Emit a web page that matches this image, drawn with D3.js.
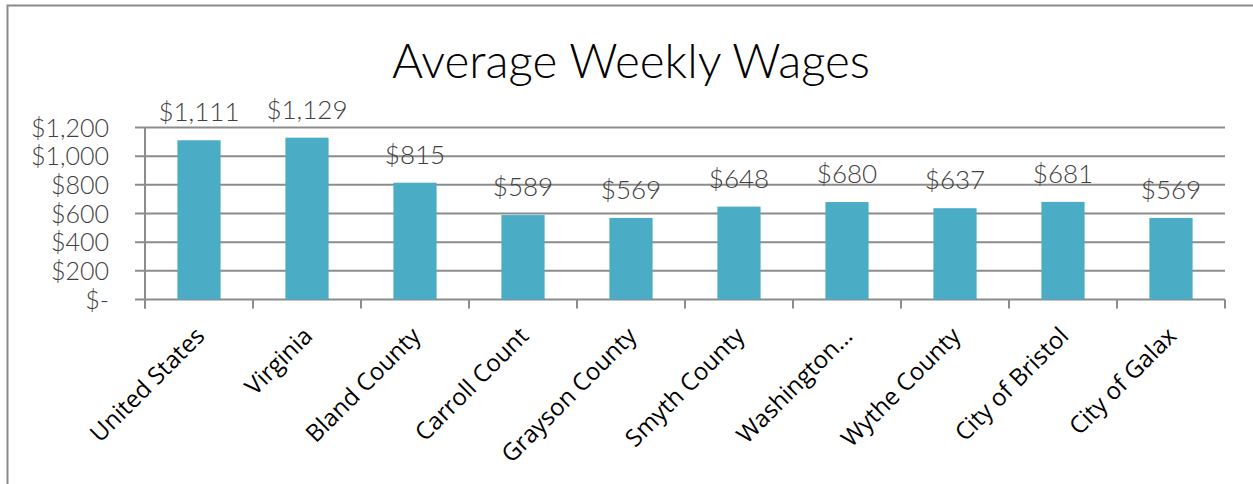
<!DOCTYPE html>
<html>
<head>
<meta charset="utf-8">
<script src="https://cdn.jsdelivr.net/npm/d3@7"></script>
<style>
  body { margin: 0; background: #fff; }
  svg { display: block; }
</style>
</head>
<body>
<svg id="chart" width="1253" height="484"></svg>
<script>
// data
const categories = ["United States", "Virginia", "Bland County", "Carroll Count", "Grayson County",
                    "Smyth County", "Washington\u2026", "Wythe County", "City of Bristol", "City of Galax"];
const wages = [1111, 1129, 815, 589, 569, 648, 680, 637, 681, 569];
const yTicks = [0, 200, 400, 600, 800, 1000, 1200];
const chartTitle = "Average Weekly Wages";

const W = 1253, H = 484;
const plot = {left: 145, right: 1225, top: 127.5, bottom: 299.5};

const svg = d3.select("#chart");

// outer frame (only left + top edges are visible in the picture)
svg.append("rect")
    .attr("x", 7.5).attr("y", 5.5)
    .attr("width", W + 20).attr("height", H + 20)
    .attr("fill", "none")
    .attr("stroke", "#8a8a8a")
    .attr("stroke-width", 2);

svg.append("text")
    .attr("x", 631).attr("y", 78)
    .attr("text-anchor", "middle")
    .attr("font-family", "Lato")
    .attr("font-weight", 300)
    .attr("font-size", 47.5)
    .attr("fill", "#000")
    .text(chartTitle);

let x = d3.scaleBand()
    .domain(categories)
    .range([plot.left, plot.right])
    .paddingInner(0.6)
    .paddingOuter(0.3);

let y = d3.scaleLinear()
    .domain([0, 1200])
    .range([plot.bottom, plot.top]);

let fmt = v => v === 0 ? "$-" : "$" + d3.format(",")(v);

// gridlines + left ticks
let grid = svg.append("g");
grid.selectAll("line").data(yTicks).enter().append("line")
    .attr("x1", plot.left - 10).attr("x2", plot.right)
    .attr("y1", d => y(d)).attr("y2", d => y(d))
    .attr("stroke", "#8c8c8c")
    .attr("stroke-width", 2);

// y axis line
svg.append("line")
    .attr("x1", plot.left).attr("x2", plot.left)
    .attr("y1", plot.top).attr("y2", plot.bottom + 9)
    .attr("stroke", "#8c8c8c").attr("stroke-width", 2);

// category boundary ticks
let step = x.step();
let bounds = d3.range(categories.length + 1).map(i => plot.left + i * step);
svg.append("g").selectAll("line").data(bounds).enter().append("line")
    .attr("x1", d => d).attr("x2", d => d)
    .attr("y1", plot.bottom).attr("y2", plot.bottom + 9)
    .attr("stroke", "#8c8c8c").attr("stroke-width", 2);

// y tick labels
svg.append("g").selectAll("text").data(yTicks).enter().append("text")
    .attr("x", 109)
    .attr("y", d => y(d) + 9)
    .attr("text-anchor", "end")
    .attr("font-family", "Lato")
    .attr("font-weight", 300)
    .attr("font-size", 25)
    .attr("fill", "#404040")
    .text(fmt);

// bars
svg.append("g").selectAll("rect").data(wages).enter().append("rect")
    .attr("x", (d, i) => x(categories[i]))
    .attr("y", d => y(d))
    .attr("width", x.bandwidth())
    .attr("height", d => y(0) - y(d))
    .attr("fill", "#4bacc6");

// value labels
svg.append("g").selectAll("text").data(wages).enter().append("text")
    .attr("x", (d, i) => x(categories[i]) + x.bandwidth() / 2)
    .attr("y", d => y(d) - 19)
    .attr("text-anchor", "middle")
    .attr("font-family", "Lato")
    .attr("font-weight", 300)
    .attr("font-size", 26)
    .attr("fill", "#404040")
    .text(fmt);

// category labels, rotated
svg.append("g").selectAll("text").data(categories).enter().append("text")
    .attr("transform", d => "translate(" + (x(d) + x.bandwidth() / 2 + 7) + "," + (plot.bottom + 38) + ") rotate(-45)")
    .attr("text-anchor", "end")
    .attr("font-family", "Open Sans")
    .attr("font-size", 24)
    .attr("fill", "#000")
    .text(d => d);
</script>
</body>
</html>
